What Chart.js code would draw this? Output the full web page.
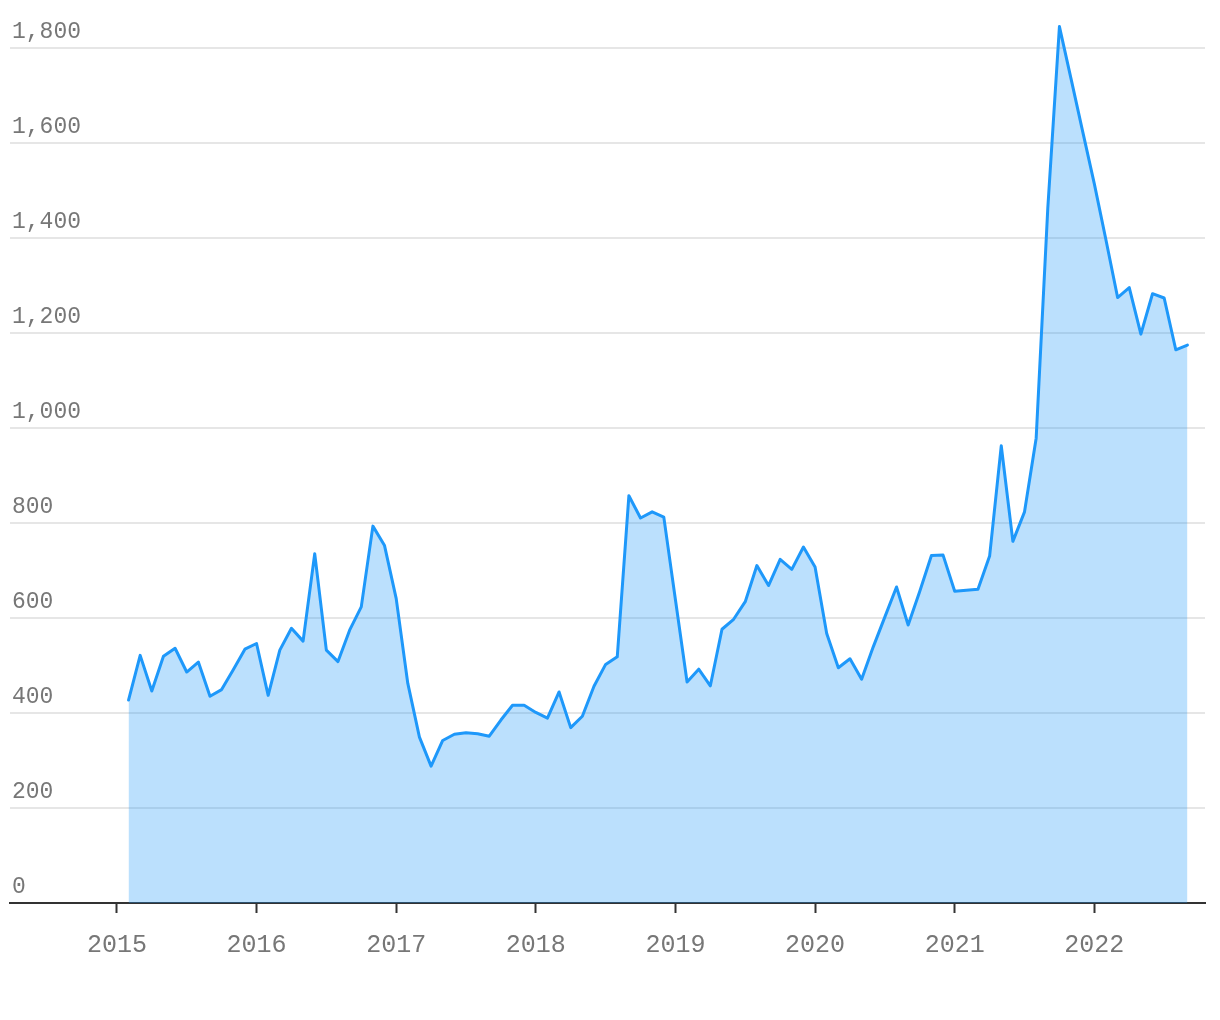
<!DOCTYPE html>
<html>
<head>
<meta charset="utf-8">
<script src="https://cdn.jsdelivr.net/npm/chart.js@4.4.1/dist/chart.umd.min.js"></script>
<style>
  html, body { margin: 0; padding: 0; background: #fff; }
  #wrap { width: 1220px; height: 1020px; }
</style>
</head>
<body>
<div id="wrap"><canvas id="c" width="1220" height="1020"></canvas></div>
<script>
// First month of the series (Feb 2015) and monthly values through Sep 2022
const firstYear = 2015;
const firstMonth = 2;
const values = [
  427, 521, 446, 519, 536, 486, 507, 435, 449, 491, 534,           // 2015 Feb-Dec
  546, 437, 532, 578, 551, 735, 532, 508, 574, 623, 793, 752,      // 2016
  641, 462, 349, 288, 342, 355, 358, 356, 351, 385, 416, 416,      // 2017
  401, 389, 444, 369, 393, 456, 502, 518, 857, 810, 823, 812,      // 2018
  638, 465, 492, 457, 576, 597, 634, 710, 668, 723, 702, 749,      // 2019
  707, 567, 495, 514, 471, 539, 602, 665, 585, 656, 731, 732,      // 2020
  656, 658, 660, 730, 962, 761, 823, 978, 1462, 1844, 1734, 1623,  // 2021
  1513, 1395, 1274, 1295, 1197, 1282, 1273, 1164, 1174             // 2022 Jan-Sep
];
const xTickYears = [2015, 2016, 2017, 2018, 2019, 2020, 2021, 2022];
const yTickValues = [0, 200, 400, 600, 800, 1000, 1200, 1400, 1600, 1800];

const points = values.map((v, i) => ({ x: firstYear + (firstMonth - 1 + i) / 12, y: v }));

const monoFont = "'Liberation Mono', 'DejaVu Sans Mono', monospace";

new Chart(document.getElementById('c'), {
  type: 'line',
  data: {
    datasets: [{
      data: points,
      borderColor: 'rgb(30,152,250)',
      backgroundColor: 'rgba(30,152,250,0.3)',
      borderWidth: 3,
      borderJoinStyle: 'round',
      borderCapStyle: 'round',
      fill: 'origin',
      pointRadius: 0,
      tension: 0
    }]
  },
  options: {
    responsive: false,
    devicePixelRatio: 1,
    animation: false,
    layout: { padding: { left: 10, right: 15, top: 0, bottom: 0 } },
    plugins: { legend: { display: false }, tooltip: { enabled: false } },
    scales: {
      x: {
        type: 'linear',
        position: 'bottom',
        min: 2014.2344,
        max: 2022.7925,
        afterBuildTicks: (s) => { s.ticks = xTickYears.map(v => ({ value: v })); },
        afterFit: (s) => { s.height = 117; s.paddingLeft = 0; s.paddingRight = 0; },
        grid: {
          display: true,
          drawOnChartArea: false,
          drawTicks: true,
          tickLength: 10,
          tickColor: '#333',
          tickWidth: 2
        },
        border: { display: true, color: '#333', width: 2 },
        ticks: {
          callback: (v) => String(v),
          font: { family: monoFont, size: 25 },
          color: '#777',
          padding: 17,
          maxRotation: 0,
          autoSkip: false
        }
      },
      y: {
        type: 'linear',
        position: 'left',
        min: 0,
        max: 1900,
        afterBuildTicks: (s) => { s.ticks = yTickValues.map(v => ({ value: v })); },
        afterFit: (s) => { s.width = 0; s.paddingTop = 0; s.paddingBottom = 0; },
        grid: {
          display: true,
          drawTicks: false,
          color: '#e6e6e6',
          lineWidth: 2
        },
        border: { display: false },
        ticks: {
          mirror: true,
          padding: 2,
          labelOffset: -16,
          callback: (v) => v.toLocaleString('en-US'),
          font: { family: monoFont, size: 23 },
          color: '#777'
        }
      }
    }
  }
});
</script>
</body>
</html>
